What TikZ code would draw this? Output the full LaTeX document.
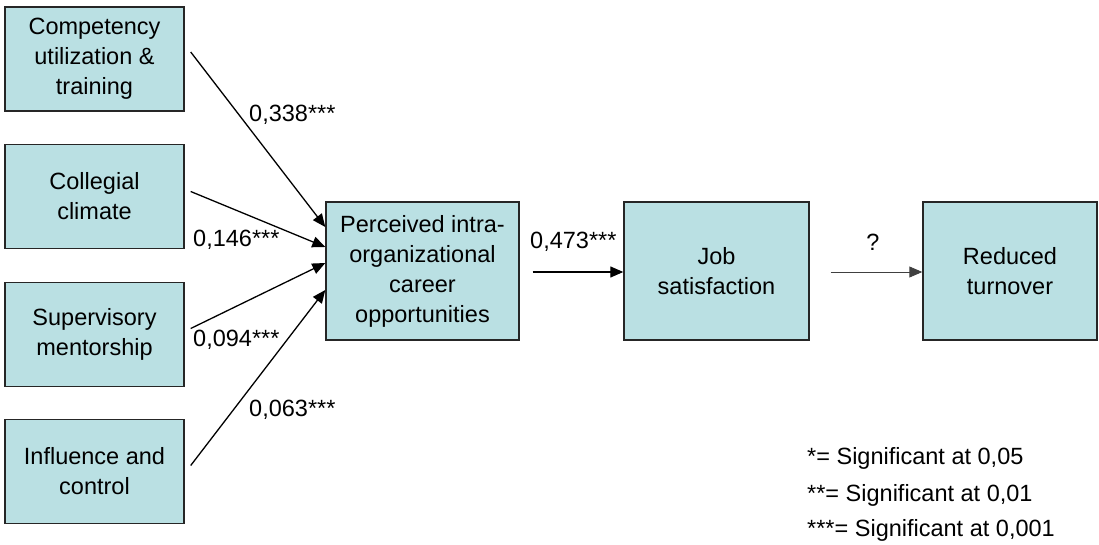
\documentclass[tikz,border=0pt]{standalone}
\usepackage{fontspec}
\setmainfont{Liberation Sans}
\usepackage{tikz}
\usetikzlibrary{arrows.meta}

\definecolor{boxfill}{RGB}{186,224,227}
\tikzset{
  factor/.style={draw=black!85,line width=1.4pt,fill=boxfill,align=center,
    minimum width=179pt,minimum height=104pt,inner sep=0pt},
  path/.style={line width=1.3pt,-{Triangle[length=13pt,width=11pt]}},
  weak/.style={line width=0.9pt,draw=black!75,-{Triangle[length=13pt,width=11pt]}},
  coef/.style={anchor=west,inner sep=0pt}
}

\begin{document}
\begin{tikzpicture}[x=1pt,y=-1pt,font=\fontsize{23.5}{30}\selectfont]
  \useasboundingbox (0,0) rectangle (1099,545);

  \node[factor] (comp) at (94.5,59) {Competency\\utilization \&\\training};
  \node[factor] (coll) at (94.5,196.5) {Collegial\\climate};
  \node[factor] (superv) at (94.5,334.5) {Supervisory\\mentorship};
  \node[factor] (infl) at (94.5,471.5) {Influence and\\control};

  \node[factor,minimum width=193pt,minimum height=138pt] (perc) at (422.5,271)
    {Perceived intra-\\organizational\\career\\opportunities};
  \node[factor,minimum width=185pt,minimum height=138pt] (job) at (716.5,271)
    {Job\\satisfaction};
  \node[factor,minimum width=174pt,minimum height=138pt] (turn) at (1010,271)
    {Reduced\\turnover};

  \draw[path] ([shift={(6,-7)}]comp.east) -- ([yshift=44pt]perc.west);
  \draw[path] ([shift={(6,-5)}]coll.east) -- ([yshift=24pt]perc.west);
  \draw[path] ([shift={(6,-6)}]superv.east) -- ([yshift=8pt]perc.west);
  \draw[path] ([shift={(6,-6)}]infl.east) -- ([yshift=-19pt]perc.west);
  \draw[path] ([xshift=13pt,yshift=-1pt]perc.east) -- ([yshift=-1pt]job.west);
  \draw[weak] ([xshift=21pt,yshift=-1pt]job.east) -- ([yshift=-1pt]turn.west);

  \node[coef] (c1) at (249,115) {0,338***};
  \node[coef] (c2) at (193,240) {0,146***};
  \node[coef] (c3) at (193,340) {0,094***};
  \node[coef] (c4) at (249,410) {0,063***};
  \node[coef] (c5) at (530,242) {0,473***};
  \node (c6) at (873,242) {?};

  \node[coef] (l1) at (807,458) {*= Significant at 0,05};
  \node[coef] (l2) at (807,495) {**= Significant at 0,01};
  \node[coef] (l3) at (807,530) {***= Significant at 0,001};
\end{tikzpicture}
\end{document}
